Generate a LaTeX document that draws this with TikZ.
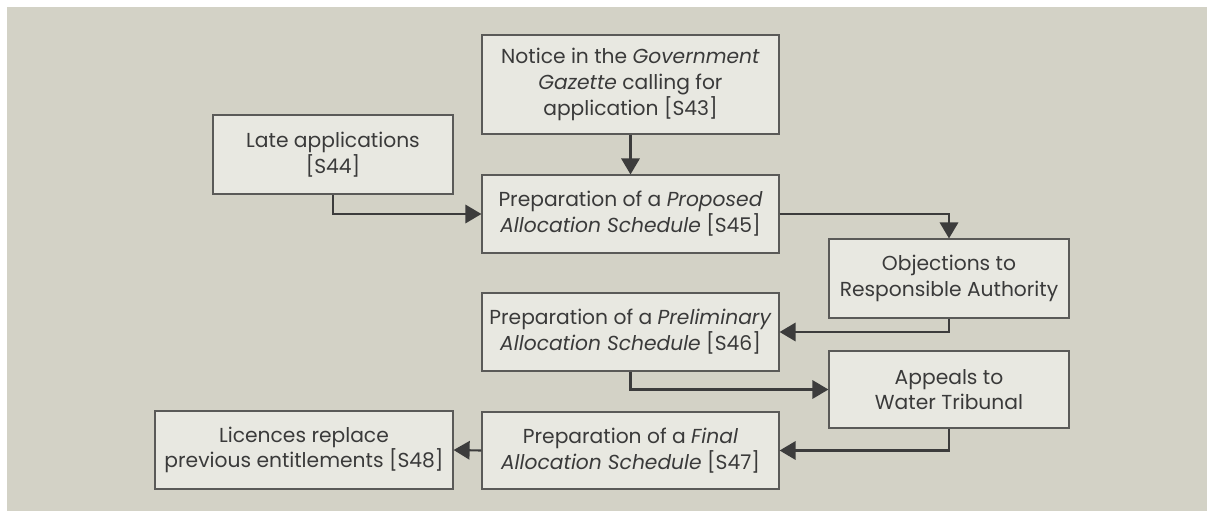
\documentclass[tikz,border=0pt]{standalone}
\usepackage{fontspec}
\setmainfont{Poppins}
\usepackage{tikz}
\usetikzlibrary{arrows.meta,positioning}
\usepackage{xcolor}
\definecolor{panelFill}{HTML}{D3D2C6}
\definecolor{boxFill}{HTML}{E8E8E1}
\definecolor{boxBorder}{HTML}{5A5A58}
\definecolor{flowLine}{HTML}{3C3C3C}
\definecolor{flowText}{HTML}{3A3A3A}

\begin{document}
\begin{tikzpicture}[
        x=0.025cm, y=-0.025cm,
        font=\fontsize{14.4}{18.3}\selectfont,
        box/.style={
            draw=boxBorder,
            fill=boxFill,
            line width=0.8pt,
            text=flowText,
            minimum width=6cm,
            minimum height=1.975cm,
            inner sep=1pt,
            align=center
        },
        widebox/.style={
            box,
            minimum width=7.425cm,
            minimum height=1.95cm
        },
        arrow/.style={
            -{Triangle[length=0.4cm, width=0.46cm]},
            line width=1.5pt,
            draw=flowLine
        }
    ]

    % page and panel
    \useasboundingbox (0,0) rectangle (1207,511);
    \fill[panelFill] (7,7) rectangle (1207,511);

    \node[widebox, minimum height=2.475cm] (notice) at (630.5,84.5)
        {Notice in the \textit{Government}\\ \textit{Gazette} calling for\\ application [S43]};

    \node[box] (late) at (333,154.5)
        {Late applications\\ {[S44]}};

    \node[widebox] (proposed) at (630.5,214)
        {Preparation of a \textit{Proposed}\\ \textit{Allocation Schedule} [S45]};

    \node[box] (objections) at (949,278.5)
        {Objections to\\ Responsible Authority};

    \node[widebox] (prelim) at (630.5,332)
        {Preparation of a \textit{Preliminary}\\ \textit{Allocation Schedule} [S46]};

    \node[box, minimum height=1.925cm] (appeals) at (949,389.5)
        {Appeals to\\ Water Tribunal};

    \node[widebox, minimum height=1.925cm] (final) at (630.5,450.5)
        {Preparation of a \textit{Final}\\ \textit{Allocation Schedule} [S47]};

    \node[widebox, minimum width=7.45cm] (licences) at (304,450)
        {Licences replace\\ previous entitlements [S48]};

    \draw[arrow] (notice.south) -- (proposed.north);
    \draw[arrow] (late.south) |- (proposed.west);
    \draw[arrow] (proposed.east) -| (objections.north);
    \draw[arrow] (objections.south) |- (prelim.east);
    \draw[arrow] (prelim.south) |- (appeals.west);
    \draw[arrow] (appeals.south) |- (final.east);
    \draw[arrow] (final.west) -- (licences.east);

\end{tikzpicture}
\end{document}
